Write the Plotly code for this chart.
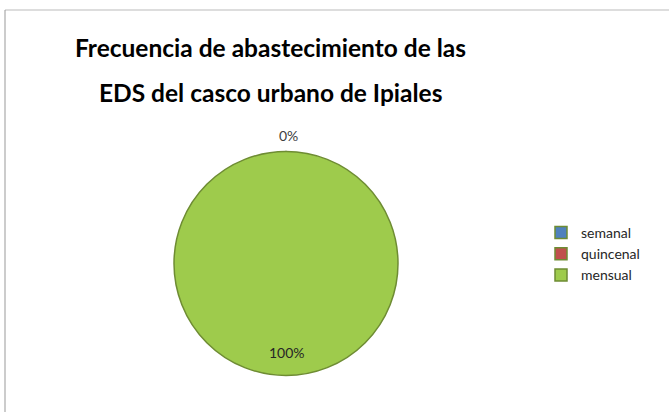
import plotly.graph_objects as go

labels = ["semanal", "quincenal", "mensual"]
values = [0, 0, 100]
colors = ["#4F81BD", "#C0504D", "#9ECB4C"]
title_lines = ["Frecuencia de abastecimiento de las", "EDS del casco urbano de Ipiales"]

W, H = 669, 412
total = sum(values)
pct = [f"{v / total:.0%}" for v in values]

fig = go.Figure()
fig.add_trace(go.Pie(
    labels=labels,
    values=values,
    marker=dict(colors=colors, line=dict(color="#6E8C33", width=1.5)),
    sort=False,
    direction="clockwise",
    rotation=0,
    textinfo="none",
    domain=dict(x=[174 / W, 398 / W], y=[1 - 377 / H, 1 - 150 / H]),
    showlegend=True,
    hoverinfo="label+percent",
))

# title lines
for txt, ypx in zip(title_lines, [48, 92]):
    fig.add_annotation(text=f"<b>{txt}</b>", x=270 / W, y=1 - ypx / H, xref="paper", yref="paper",
                       xanchor="center", yanchor="middle", showarrow=False,
                       font=dict(family="Lato", size=24.5, color="black"))

# data labels derived from values
fig.add_annotation(text=pct[0], x=288 / W, y=1 - 135 / H, xref="paper", yref="paper",
                   xanchor="center", yanchor="middle",
                   showarrow=False, font=dict(family="Lato", size=14, color="#404040"))
fig.add_annotation(text=pct[2], x=287 / W, y=1 - 352 / H, xref="paper", yref="paper",
                   xanchor="center", yanchor="middle",
                   showarrow=False, font=dict(family="Lato", size=14, color="#262626"))

fig.update_layout(
    width=W, height=H,
    margin=dict(l=0, r=0, t=0, b=0),
    paper_bgcolor="white",
    legend=dict(x=541 / W, y=1 - 217 / H, xanchor="left", yanchor="top",
                font=dict(family="Lato", size=14, color="#262626"),
                itemwidth=30, tracegroupgap=0, bgcolor="rgba(0,0,0,0)"),
    shapes=[
        dict(type="line", xref="paper", yref="paper", x0=5 / W, x1=1, y0=1 - 10 / H, y1=1 - 10 / H,
             line=dict(color="#BBBBBB", width=1)),
        dict(type="line", xref="paper", yref="paper", x0=5 / W, x1=5 / W, y0=0, y1=1 - 10 / H,
             line=dict(color="#999999", width=1)),
    ],
)

fig.write_html("out.html", config={"displayModeBar": False},
               post_script="document.body.style.margin='0';")
